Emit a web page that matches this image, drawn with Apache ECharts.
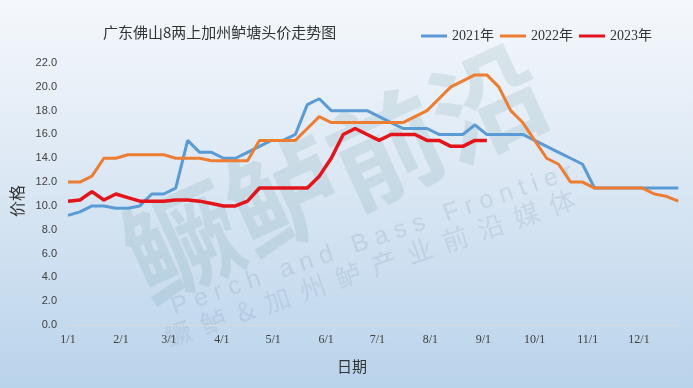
<!DOCTYPE html>
<html><head><meta charset="utf-8">
<script src="https://cdn.jsdelivr.net/npm/echarts@6/dist/echarts.min.js"></script>
<style>html,body{margin:0;padding:0;}#c{width:693px;height:388px;}</style>
</head><body><div id="c"></div>
<script>
// Tick positions (day of year) and their labels
const monthStarts = [0, 31, 59, 90, 120, 151, 181, 212, 243, 273, 304, 334];
const monthLabels = ['1/1','2/1','3/1','4/1','5/1','6/1','7/1','8/1','9/1','10/1','11/1','12/1'];
// Weekly observation dates (day of year)
const days = [0,7,14,21,28,35,42,49,56,63,70,77,84,91,98,105,112,119,126,133,140,147,154,161,168,175,182,189,196,203,210,217,224,231,238,245,252,259,266,273,280,287,294,301,308,315,322,329,336,343,350,357];
const seriesNames = ['2021年','2022年','2023年'];
const v2021 = [9.2,9.5,10.0,10.0,9.8,9.8,10.0,11.0,11.0,11.5,15.5,14.5,14.5,14.0,14.0,14.5,15.0,15.5,15.5,16.0,18.5,19.0,18.0,18.0,18.0,18.0,17.5,17.0,16.5,16.5,16.5,16.0,16.0,16.0,16.8,16.0,16.0,16.0,16.0,15.5,15.0,14.5,14.0,13.5,11.5,11.5,11.5,11.5,11.5,11.5,11.5,11.5];
const v2022 = [12.0,12.0,12.5,14.0,14.0,14.3,14.3,14.3,14.3,14.0,14.0,14.0,13.8,13.8,13.8,13.8,15.5,15.5,15.5,15.5,16.5,17.5,17.0,17.0,17.0,17.0,17.0,17.0,17.0,17.5,18.0,19.0,20.0,20.5,21.0,21.0,20.0,18.0,17.0,15.5,14.0,13.5,12.0,12.0,11.5,11.5,11.5,11.5,11.5,11.0,10.8,10.4];
const v2023 = [10.4,10.5,11.2,10.5,11.0,10.7,10.4,10.4,10.4,10.5,10.5,10.4,10.2,10.0,10.0,10.4,11.5,11.5,11.5,11.5,11.5,12.5,14.0,16.0,16.5,16.0,15.5,16.0,16.0,16.0,15.5,15.5,15.0,15.0,15.5,15.5];
const colors = ['#5B9BD5', '#ED7D31', '#E3141B'];

const pair = vals => vals.map((v, i) => [days[i], v]);

const chart = echarts.init(document.getElementById('c'));
chart.setOption({
  backgroundColor: {type:'linear', x:0, y:0, x2:0, y2:1, colorStops:[{offset:0,color:'#F5F8FC'},{offset:0.45,color:'#DCE8F4'},{offset:1,color:'#B9D3EB'}]},
  animation: false,
  color: colors,
  title: {
    text: '广东佛山8两上加州鲈塘头价走势图', left: 98, top: 20,
    textStyle: {fontSize: 15, fontWeight: 'normal', color: '#333', fontFamily: 'Noto Sans CJK SC'}
  },
  legend: {
    left: 416, top: 24, itemWidth: 26, itemHeight: 3, itemGap: 6, icon: 'rect',
    textStyle: {fontSize: 14, color: '#333', fontFamily: 'Liberation Serif, Noto Sans CJK SC'},
    data: seriesNames
  },
  graphic: [
    {type:'text', x:335, y:172, rotation:0.43, silent:true, z:0,
     style:{text:'鳜鲈前沿', fontSize:112, fontWeight:'bold', fill:'rgba(60,125,125,0.12)', align:'center', verticalAlign:'middle', fontFamily:'Noto Sans CJK SC'}},
    {type:'text', x:372, y:240, rotation:0.33, silent:true, z:0,
     style:{text:'P e r c h   a n d   B a s s   F r o n t i e r', fontSize:25, fill:'rgba(120,145,170,0.2)', align:'center', verticalAlign:'middle', fontFamily:'Liberation Sans'}},
    {type:'text', x:370, y:268, rotation:0.33, silent:true, z:0,
     style:{text:'鳜  鲈  &  加  州  鲈  产  业  前  沿  媒  体', fontSize:26, fill:'rgba(120,145,170,0.18)', align:'center', verticalAlign:'middle', fontFamily:'Noto Sans CJK SC'}}
  ],
  grid: {left: 68, right: 13, top: 63, bottom: 63},
  xAxis: {
    type: 'value', min: 0, max: 358,
    axisLine: {show: true, lineStyle: {color: '#D9D9D9', width: 1}},
    axisTick: {show: false},
    splitLine: {show: false},
    axisLabel: {
      customValues: monthStarts,
      formatter: v => monthLabels[monthStarts.indexOf(v)],
      fontSize: 12, color: '#404040', margin: 9, fontFamily: 'Liberation Serif'
    },
    name: '日期', nameLocation: 'middle', nameGap: 34,
    nameTextStyle: {fontSize: 15, color: '#333', fontFamily: 'Noto Sans CJK SC', padding: [0, 44, 0, 0]}
  },
  yAxis: {
    type: 'value', min: 0, max: 22, interval: 2,
    axisLine: {show: false}, axisTick: {show: false}, splitLine: {show: false},
    axisLabel: {formatter: v => v.toFixed(1), fontSize: 11, color: '#404040', margin: 11, fontFamily: 'Liberation Sans'},
    name: '价格', nameLocation: 'middle', nameGap: 42,
    nameTextStyle: {fontSize: 16, color: '#333', fontFamily: 'Noto Sans CJK SC', padding: [0, 14, 0, 0]}
  },
  series: [
    {name: seriesNames[0], type: 'line', data: pair(v2021), symbol: 'none', lineStyle: {width: 3, color: colors[0]}, z: 3},
    {name: seriesNames[1], type: 'line', data: pair(v2022), symbol: 'none', lineStyle: {width: 3, color: colors[1]}, z: 4},
    {name: seriesNames[2], type: 'line', data: pair(v2023), symbol: 'none', lineStyle: {width: 3.5, color: colors[2]}, z: 5}
  ]
});
</script>
</body></html>
